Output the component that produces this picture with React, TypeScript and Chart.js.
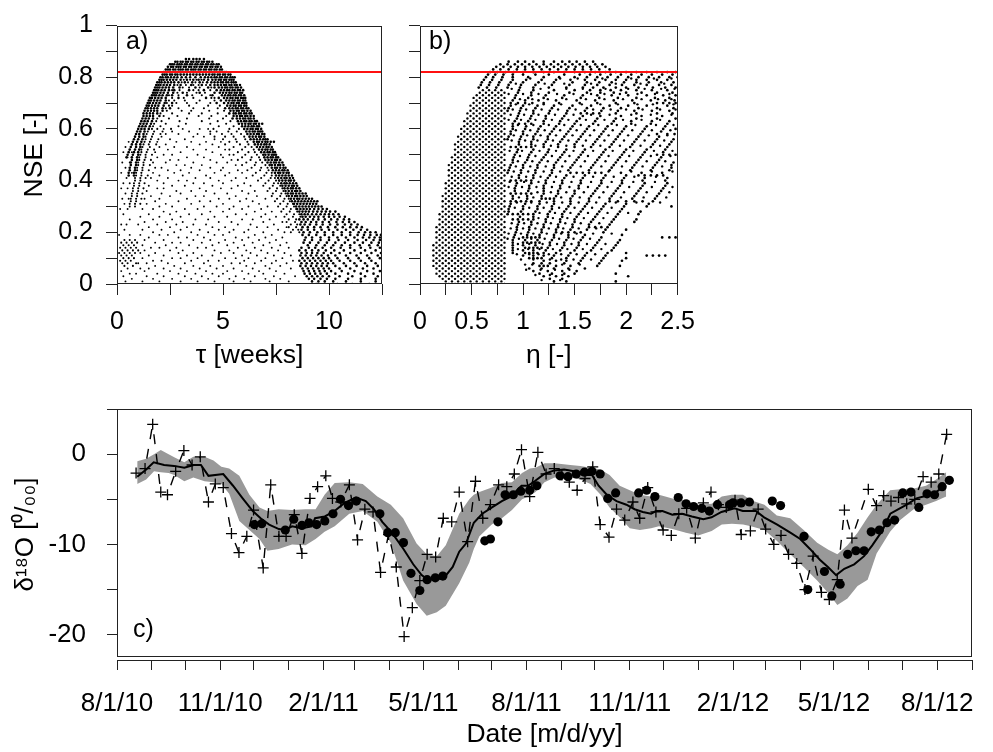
import React, { useEffect, useRef } from 'react';
import { Chart, registerables } from 'chart.js';

Chart.register(...registerables);

const FONT = "'Liberation Sans', Arial, Helvetica, sans-serif";

// ---------- Panel a: NSE vs tau; rows of [NSE, tau values] ----------
// dense envelope of the dotty plot
const tauDense: [number, number[]][] = [
  [0.87, [3.25, 3.4, 3.6, 3.75, 3.9, 4.1]],
  [0.86, [2.75, 2.85, 3.0, 3.1, 3.25, 3.35, 3.5, 3.6, 3.75, 3.85, 4.0, 4.1, 4.25, 4.35, 4.5]],
  [0.85, [2.5, 2.6, 2.7, 2.85, 2.95, 3.05, 3.2, 3.3, 3.45, 3.55, 3.7, 3.8, 3.95, 4.05, 4.2, 4.3, 4.45, 4.55, 4.7, 4.8]],
  [0.84, [2.4, 2.55, 2.65, 2.8, 2.9, 3.0, 3.15, 3.25, 3.4, 3.5, 3.65, 3.75, 3.9, 4.0, 4.15, 4.25, 4.4, 4.5, 4.65, 4.75, 4.9]],
  [0.83, [2.3, 2.4, 2.5, 2.65, 2.75, 2.9, 3.0, 3.1, 3.25, 3.35, 3.5, 3.6, 3.7, 3.85, 3.95, 4.1, 4.2, 4.35, 4.45, 4.6, 4.7, 4.85, 4.95]],
  [0.82, [2.2, 2.3, 2.45, 2.55, 2.7, 2.8, 2.95, 3.05, 3.2, 3.3, 3.45, 3.55, 3.65, 3.8, 3.9, 4.05, 4.15, 4.3, 4.4, 4.55, 4.65, 4.8, 4.9, 5.05, 5.15]],
  [0.81, [2.15, 2.25, 2.35, 2.5, 2.6, 2.75, 2.85, 3.0, 3.15, 3.3, 3.45, 3.6, 3.75, 3.9, 4.05, 4.2, 4.35, 4.5, 4.6, 4.75, 4.85, 5.0, 5.1, 5.25, 5.35]],
  [0.8, [2.05, 2.15, 2.3, 2.4, 2.55, 2.7, 2.85, 3.05, 3.25, 3.45, 3.7, 3.95, 4.15, 4.3, 4.45, 4.6, 4.7, 4.85, 4.95, 5.1, 5.2, 5.35, 5.45, 5.55]],
  [0.79, [2.0, 2.1, 2.2, 2.35, 2.5, 2.65, 2.8, 3.0, 3.3, 3.6, 3.85, 4.1, 4.3, 4.5, 4.65, 4.8, 4.9, 5.05, 5.15, 5.3, 5.4, 5.5]],
  [0.78, [1.9, 2.0, 2.1, 2.25, 2.4, 2.55, 2.7, 2.9, 3.2, 3.55, 3.9, 4.25, 4.45, 4.6, 4.75, 4.9, 5.0, 5.15, 5.25, 5.4, 5.5, 5.6]],
  [0.77, [1.85, 1.95, 2.05, 2.2, 2.35, 2.5, 2.7, 3.0, 3.5, 4.0, 4.4, 4.6, 4.75, 4.9, 5.05, 5.15, 5.3, 5.4, 5.55, 5.65, 5.8]],
  [0.76, [1.8, 1.9, 2.0, 2.15, 2.3, 2.45, 2.65, 2.95, 3.7, 4.3, 4.6, 4.8, 4.95, 5.1, 5.2, 5.35, 5.45, 5.6, 5.7, 5.85]],
  [0.75, [1.75, 1.85, 1.95, 2.1, 2.25, 2.45, 2.7, 3.4, 4.1, 4.7, 4.9, 5.05, 5.2, 5.3, 5.45, 5.55, 5.7, 5.8, 5.95]],
  [0.74, [1.7, 1.8, 1.9, 2.05, 2.2, 2.4, 2.65, 3.1, 3.9, 4.6, 4.85, 5.0, 5.15, 5.3, 5.4, 5.55, 5.65, 5.8, 5.9]],
  [0.73, [1.65, 1.75, 1.85, 2.0, 2.15, 2.35, 2.6, 3.3, 4.5, 4.95, 5.1, 5.25, 5.35, 5.5, 5.6, 5.75, 5.85, 6.0]],
  [0.72, [1.55, 1.65, 1.8, 1.95, 2.1, 2.3, 2.9, 4.2, 4.8, 5.05, 5.2, 5.35, 5.45, 5.6, 5.7, 5.85, 5.95, 6.05]],
  [0.71, [1.5, 1.6, 1.75, 1.9, 2.05, 2.3, 4.9, 5.15, 5.3, 5.45, 5.55, 5.7, 5.8, 5.95, 6.05]],
  [0.7, [1.45, 1.55, 1.7, 1.85, 2.0, 2.25, 2.6, 4.7, 5.05, 5.25, 5.4, 5.5, 5.65, 5.75, 5.9, 6.0, 6.1]],
  [0.69, [1.4, 1.5, 1.65, 1.8, 1.95, 2.2, 5.2, 5.35, 5.5, 5.6, 5.75, 5.85, 6.0, 6.1]],
  [0.68, [1.35, 1.45, 1.6, 1.75, 1.9, 2.15, 2.5, 5.1, 5.3, 5.45, 5.6, 5.7, 5.85, 5.95, 6.1, 6.2]],
  [0.67, [1.3, 1.45, 1.6, 1.75, 1.9, 2.15, 5.35, 5.5, 5.65, 5.75, 5.9, 6.0, 6.15, 6.3]],
  [0.66, [1.25, 1.4, 1.55, 1.7, 1.9, 5.3, 5.5, 5.6, 5.75, 5.85, 6.0, 6.1, 6.25, 6.35]],
  [0.65, [1.25, 1.4, 1.55, 1.7, 2.0, 5.5, 5.65, 5.8, 5.9, 6.05, 6.15, 6.3, 6.45]],
  [0.64, [1.2, 1.35, 1.5, 1.7, 5.45, 5.65, 5.8, 5.95, 6.05, 6.2, 6.3, 6.45]],
  [0.63, [1.15, 1.3, 1.45, 1.65, 5.7, 5.85, 6.0, 6.1, 6.25, 6.35, 6.5, 6.6]],
  [0.62, [1.1, 1.25, 1.4, 1.6, 5.75, 5.9, 6.05, 6.2, 6.3, 6.45, 6.55, 6.7, 6.85]],
  [0.61, [1.05, 1.2, 1.35, 1.55, 5.9, 6.05, 6.2, 6.35, 6.45, 6.6, 6.7]],
  [0.6, [1.0, 1.15, 1.3, 1.5, 6.0, 6.15, 6.3, 6.4, 6.55, 6.65, 6.8]],
  [0.59, [0.95, 1.1, 1.3, 6.1, 6.25, 6.4, 6.5, 6.65, 6.75, 6.85]],
  [0.58, [0.9, 1.05, 1.25, 6.15, 6.3, 6.45, 6.6, 6.7, 6.85, 6.95]],
  [0.57, [0.85, 1.05, 1.25, 6.25, 6.4, 6.55, 6.7, 6.8, 6.95]],
  [0.56, [0.8, 1.0, 1.2, 6.3, 6.45, 6.6, 6.75, 6.9, 7.0, 7.1]],
  [0.55, [0.75, 0.95, 1.15, 6.45, 6.6, 6.7, 6.85, 7.0, 7.1, 7.25, 7.4]],
  [0.54, [0.7, 0.9, 1.1, 6.5, 6.65, 6.8, 6.95, 7.05, 7.2]],
  [0.53, [0.65, 0.9, 1.1, 6.6, 6.75, 6.9, 7.05, 7.15, 7.3]],
  [0.52, [0.6, 0.85, 1.05, 6.7, 6.85, 7.0, 7.1, 7.25, 7.35]],
  [0.51, [0.55, 0.8, 1.0, 6.8, 6.95, 7.1, 7.2, 7.35, 7.45]],
  [0.5, [0.5, 0.75, 1.0, 6.9, 7.0, 7.15, 7.3, 7.4, 7.5]],
  [0.49, [0.45, 0.7, 0.95, 6.95, 7.1, 7.25, 7.35, 7.5, 7.6]],
  [0.48, [0.7, 0.95, 7.0, 7.15, 7.3, 7.45, 7.55, 7.7]],
  [0.47, [0.65, 0.9, 7.1, 7.25, 7.4, 7.5, 7.65, 7.8]],
  [0.46, [0.65, 0.9, 7.2, 7.3, 7.45, 7.6, 7.7, 7.85]],
  [0.45, [0.6, 0.85, 7.3, 7.45, 7.55, 7.7, 7.85, 7.95]],
  [0.44, [0.6, 0.85, 7.35, 7.5, 7.65, 7.8, 7.9, 8.05]],
  [0.43, [0.55, 0.8, 7.45, 7.6, 7.7, 7.85, 8.0, 8.1]],
  [0.42, [0.55, 0.8, 7.5, 7.65, 7.8, 7.95, 8.1, 8.25]],
  [0.41, [7.6, 7.75, 7.9, 8.0, 8.15, 8.3]],
  [0.4, [7.65, 7.8, 7.95, 8.1, 8.2, 8.35]],
  [0.39, [7.75, 7.9, 8.0, 8.15, 8.3, 8.45]],
  [0.38, [7.8, 7.95, 8.1, 8.25, 8.35, 8.5]],
  [0.37, [7.9, 8.05, 8.2, 8.3, 8.45, 8.6]],
  [0.36, [7.95, 8.1, 8.25, 8.4, 8.5, 8.65]],
  [0.35, [8.05, 8.2, 8.3, 8.45, 8.6, 8.75, 8.9]],
  [0.34, [8.1, 8.25, 8.4, 8.5, 8.65, 8.8, 8.95]],
  [0.33, [8.2, 8.35, 8.5, 8.6, 8.75, 8.9, 9.05, 9.2]],
  [0.32, [8.25, 8.4, 8.55, 8.7, 8.85, 9.0, 9.15, 9.3, 9.45]],
  [0.31, [8.35, 8.5, 8.65, 8.8, 8.95, 9.1, 9.25, 9.4]],
  [0.3, [8.45, 8.6, 8.75, 8.9, 9.05, 9.2, 9.35, 9.5, 9.65]],
  [0.29, [8.5, 8.65, 8.8, 8.95, 9.1, 9.3, 9.5, 9.7, 9.9]],
  [0.28, [8.6, 8.75, 8.9, 9.05, 9.25, 9.45, 9.65, 9.85, 10.05, 10.3]],
  [0.27, [8.7, 8.85, 9.0, 9.2, 9.4, 9.6, 9.8, 10.0, 10.2, 10.45]],
  [0.26, [8.75, 8.9, 9.1, 9.3, 9.5, 9.75, 10.0, 10.25, 10.5, 10.75]],
  [0.25, [8.6, 8.8, 9.0, 9.25, 9.5, 9.8, 10.1, 10.4, 10.7, 10.95]],
  [0.24, [8.7, 8.9, 9.15, 9.4, 9.7, 10.0, 10.35, 10.65, 10.95, 11.2]],
  [0.23, [8.65, 8.85, 9.1, 9.4, 9.7, 10.05, 10.4, 10.75, 11.05, 11.35]],
  [0.22, [8.75, 9.0, 9.3, 9.6, 9.95, 10.3, 10.65, 11.0, 11.3, 11.55]],
  [0.21, [8.7, 9.0, 9.3, 9.65, 10.0, 10.4, 10.8, 11.15, 11.5, 11.8]],
  [0.2, [8.8, 9.1, 9.45, 9.8, 10.2, 10.6, 11.0, 11.4, 11.7, 11.95, 12.2]],
  [0.19, [8.75, 9.05, 9.4, 9.8, 10.2, 10.6, 11.0, 11.35, 11.65, 11.95, 12.25, 12.45]],
  [0.18, [8.9, 9.2, 9.6, 10.0, 10.4, 10.8, 11.2, 11.6, 11.9, 12.15, 12.4]],
  [0.17, [8.85, 9.2, 9.6, 10.0, 10.45, 10.9, 11.35, 11.75, 12.1, 12.4]],
  [0.16, [8.8, 9.1, 9.5, 9.9, 10.3, 10.75, 11.2, 11.6, 12.0, 12.35]],
  [0.15, [9.0, 9.4, 9.8, 10.2, 10.6, 11.0, 11.45, 11.9, 12.3]],
  [0.14, [8.7, 9.05, 9.35, 9.7, 10.1, 10.55, 11.0, 11.5, 11.95, 12.4]],
  [0.13, [8.6, 8.9, 9.2, 9.5, 9.85, 10.25, 10.7, 11.2, 11.7, 12.2]],
  [0.12, [8.7, 8.95, 9.2, 9.45, 9.75, 10.1, 10.5, 11.0, 11.5, 12.0, 12.45]],
  [0.11, [8.65, 8.9, 9.15, 9.4, 9.65, 9.95, 10.3, 10.8, 11.3, 11.8, 12.3]],
  [0.1, [8.75, 9.0, 9.25, 9.5, 9.75, 10.0, 10.4, 10.9, 11.4, 11.9, 12.4]],
  [0.09, [8.6, 8.85, 9.1, 9.35, 9.6, 9.85, 10.1, 10.5, 11.0, 11.5, 12.0]],
  [0.08, [8.7, 8.95, 9.2, 9.45, 9.7, 9.95, 10.2, 10.7, 11.2, 11.7, 12.2]],
  [0.07, [8.65, 8.9, 9.15, 9.4, 9.65, 9.9, 10.3, 10.8, 11.3, 11.8, 12.3]],
  [0.06, [8.75, 9.0, 9.25, 9.5, 9.75, 10.0, 10.5, 11.0, 11.6, 12.1]],
  [0.05, [8.8, 9.05, 9.3, 9.55, 9.8, 10.1, 10.6, 11.2, 11.8, 12.4]],
  [0.04, [8.85, 9.1, 9.35, 9.6, 9.9, 10.3, 10.9, 11.5, 12.1]],
  [0.03, [8.95, 9.2, 9.45, 9.7, 10.0, 10.5, 11.1, 11.7, 12.3]],
  [0.02, [9.05, 9.3, 9.6, 9.9, 10.3, 10.9, 11.5, 12.2]],
  [0.01, [9.2, 9.5, 9.8, 10.2, 10.8, 11.5, 12.2]],
  [0.0, [9.4, 9.8, 10.4, 11.1, 11.9]],
];
// medium-density inner part of the envelope and the small cluster at low tau
const tauMedium: [number, number[]][] = [
  [0.79, [3.15, 3.45, 3.75, 3.98]], [0.78, [3.05, 3.35, 3.7, 4.05]], [0.77, [2.85, 3.25, 3.6, 3.85, 4.2]],
  [0.76, [3.1, 3.4, 3.9, 4.45]], [0.75, [2.6, 2.95, 3.6, 3.85, 4.4]], [0.74, [2.85, 3.3, 3.75, 4.15]],
  [0.73, [2.45, 2.9, 3.55, 4.0, 4.4]], [0.72, [2.6, 3.15, 3.6, 4.45, 4.6]], [0.71, [2.45, 2.7, 3.2, 3.9, 4.6]],
  [0.7, [2.35, 2.8, 3.3, 3.75, 4.4]], [0.69, [2.45, 2.6, 3.4, 4.3, 4.85]], [0.68, [2.3, 2.9, 3.6, 4.1, 4.75]],
  [0.67, [2.35, 3.05, 3.5, 4.35, 5.05]], [0.66, [2.05, 2.6, 3.4, 4.0, 4.75]], [0.65, [2.2, 2.85, 3.85, 4.45, 5.15]],
  [0.64, [1.9, 2.45, 3.3, 4.35, 5.0]], [0.63, [1.85, 2.1, 2.95, 4.0, 4.75, 5.35]], [0.62, [1.75, 2.3, 3.25, 4.4, 5.15]],
  [0.61, [1.7, 2.05, 2.9, 4.8, 5.5]], [0.6, [1.65, 1.9, 2.55, 4.55, 5.3, 5.75]], [0.59, [1.45, 1.75, 2.15, 4.4, 5.25, 5.65]],
  [0.58, [1.4, 1.7, 2.05, 4.95, 5.4, 5.85]], [0.57, [1.35, 1.65, 4.6, 5.1, 5.5, 6.0]], [0.56, [1.35, 1.6, 1.95, 5.0, 5.6, 6.05]],
  [0.55, [1.3, 1.55, 5.3, 5.65, 6.15]], [0.54, [1.25, 1.5, 1.85, 5.1, 5.8, 6.2]], [0.53, [1.2, 1.55, 5.5, 6.05, 6.35]],
  [0.52, [1.15, 1.45, 1.75, 5.3, 5.9, 6.45]], [0.51, [1.15, 1.4, 5.7, 6.2, 6.5]], [0.5, [1.1, 1.35, 1.65, 5.5, 6.05, 6.6]],
  [0.49, [1.05, 1.35, 5.9, 6.35, 6.7]], [0.48, [1.05, 1.3, 1.6, 5.7, 6.3, 6.75]], [0.47, [1.0, 1.25, 6.1, 6.55, 6.85]],
  [0.46, [1.0, 1.25, 1.55, 5.9, 6.5, 7.0]], [0.45, [0.95, 1.2, 6.35, 6.8, 7.1]], [0.44, [0.95, 1.2, 1.5, 6.15, 6.75, 7.15]],
  [0.43, [0.9, 1.15, 6.55, 7.05, 7.3]], [0.42, [0.9, 1.15, 1.45, 6.4, 6.95, 7.3]], [0.41, [0.85, 1.1, 1.35, 6.8, 7.25, 7.45]],
  [0.4, [0.85, 1.1, 6.65, 7.15, 7.5]], [0.39, [0.8, 1.05, 1.3, 7.0, 7.4, 7.6]], [0.38, [0.8, 1.05, 6.9, 7.35, 7.7]],
  [0.37, [0.75, 1.0, 1.25, 7.2, 7.55, 7.8]], [0.36, [0.75, 1.0, 7.1, 7.5, 7.85]], [0.35, [0.7, 0.95, 1.2, 7.35, 7.75, 7.95]],
  [0.34, [0.7, 0.95, 7.3, 7.7, 8.0]], [0.33, [0.65, 0.9, 1.15, 7.55, 7.9, 8.1]], [0.32, [0.65, 0.9, 7.45, 7.85, 8.15]],
  [0.31, [0.6, 0.85, 1.1, 7.7, 8.05, 8.3]], [0.3, [0.6, 0.85, 7.6, 8.0, 8.35]], [0.29, [7.85, 8.2, 8.45]],
  [0.28, [7.75, 8.15, 8.5]], [0.27, [8.0, 8.35, 8.6]], [0.26, [7.9, 8.3, 8.65]], [0.25, [8.1, 8.45]],
  [0.24, [8.0, 8.4]], [0.23, [8.2, 8.5]], [0.22, [8.1, 8.45]], [0.21, [8.3, 8.55]], [0.2, [8.2, 8.6]],
  [0.17, [0.35, 0.6, 0.85]], [0.16, [0.2, 0.45, 0.7, 0.95]], [0.15, [0.3, 0.55, 0.8]], [0.14, [0.15, 0.4, 0.65, 0.9]],
  [0.13, [0.25, 0.5, 0.75, 1.0]], [0.12, [0.1, 0.35, 0.6, 0.85]], [0.11, [0.2, 0.45, 0.7]], [0.1, [0.3, 0.55, 0.8]],
  [0.09, [0.15, 0.4, 0.65]], [0.08, [0.25, 0.5, 0.9]], [0.07, [0.35, 0.75]],
];
// scattered interior of the dotty plot
const tauSparse: [number, number[]][] = [
  [0.6, [2.2, 3.1, 3.9, 4.3]], [0.59, [2.6, 3.4, 4.7]], [0.58, [2.3, 2.9, 3.8, 4.4]], [0.57, [2.1, 3.6, 4.1]],
  [0.56, [2.5, 3.2, 4.6]], [0.55, [0.55, 1.9, 2.8, 3.5, 4.2, 4.9]], [0.54, [2.3, 3.9, 4.5]], [0.53, [0.4, 2.0, 2.7, 3.3, 4.8]],
  [0.52, [2.4, 3.6, 4.2, 5.1]], [0.51, [0.3, 0.7, 1.8, 3.0, 4.5]], [0.5, [2.2, 2.6, 3.8, 4.9, 5.3]], [0.49, [0.5, 1.9, 3.3, 4.1, 5.0]],
  [0.48, [2.5, 2.9, 4.4, 5.4]], [0.47, [0.25, 0.6, 1.7, 2.3, 3.6, 4.7, 5.2]], [0.46, [2.8, 3.2, 4.0, 5.6]],
  [0.45, [0.4, 1.8, 2.1, 3.5, 4.4, 5.0]], [0.44, [2.4, 3.0, 3.9, 4.9, 5.7]], [0.43, [0.2, 0.7, 1.7, 2.7, 3.4, 4.6, 5.3, 5.9]],
  [0.42, [2.0, 3.1, 4.2, 5.1]], [0.41, [0.45, 1.6, 2.4, 3.7, 4.4, 5.6, 6.1]], [0.4, [1.9, 2.9, 3.3, 4.8, 5.4]],
  [0.39, [0.3, 0.6, 2.2, 3.6, 4.1, 5.0, 6.0]], [0.38, [1.5, 2.6, 3.2, 4.5, 5.7, 6.3]], [0.37, [0.2, 0.5, 1.9, 2.2, 3.9, 4.9, 5.4]],
  [0.36, [1.4, 2.8, 3.5, 4.2, 5.9, 6.5]], [0.35, [0.4, 2.1, 3.0, 4.6, 5.2, 6.2]], [0.34, [1.6, 2.5, 3.7, 4.1, 5.6, 6.6]],
  [0.33, [0.25, 0.55, 1.3, 2.0, 3.3, 4.8, 5.3, 6.1, 7.0]], [0.32, [1.8, 2.9, 3.9, 4.4, 5.8, 6.4]], [0.31, [0.35, 1.4, 2.3, 3.5, 5.0, 6.7]],
  [0.3, [2.0, 2.6, 4.1, 4.7, 5.5, 6.2, 7.1]], [0.29, [0.15, 0.5, 1.2, 1.7, 3.2, 3.8, 5.3, 5.9, 6.8]], [0.28, [2.2, 2.8, 4.4, 5.0, 6.5, 7.3]],
  [0.27, [0.3, 1.5, 2.5, 3.4, 4.0, 5.6, 6.1, 7.0]], [0.26, [1.1, 2.0, 3.0, 4.6, 5.2, 6.8, 7.5]], [0.25, [0.6, 1.7, 2.6, 3.7, 4.3, 5.9, 6.4, 7.2]],
  [0.24, [1.3, 2.3, 3.1, 4.8, 5.4, 6.9, 7.8]], [0.23, [0.2, 0.45, 1.0, 1.9, 2.8, 3.6, 4.2, 5.7, 6.3, 7.4]],
  [0.22, [1.5, 2.5, 3.3, 4.5, 5.1, 6.6, 7.1, 8.0]], [0.21, [0.35, 1.2, 2.1, 3.0, 3.9, 4.8, 5.5, 6.2, 7.6]],
  [0.2, [1.7, 2.7, 3.5, 4.3, 5.3, 6.0, 6.9, 7.9]], [0.19, [0.1, 0.6, 1.1, 2.0, 2.4, 3.8, 4.6, 5.0, 6.5, 7.3]],
  [0.18, [1.5, 2.9, 3.3, 4.1, 5.6, 6.2, 7.0, 7.8]], [0.17, [1.3, 2.2, 3.6, 4.4, 5.1, 5.9, 6.7, 7.5]],
  [0.16, [1.8, 2.6, 3.0, 4.0, 4.8, 5.5, 6.4, 7.2, 8.0]], [0.15, [1.2, 2.3, 3.4, 4.5, 5.2, 6.0, 6.9, 7.7]],
  [0.14, [1.6, 2.0, 2.8, 3.8, 4.2, 5.7, 6.5, 7.3, 8.1]], [0.13, [1.3, 2.5, 3.1, 4.6, 5.3, 6.1, 6.8, 7.6]],
  [0.12, [1.1, 1.8, 2.9, 3.6, 4.9, 5.5, 6.3, 7.1, 7.9]], [0.11, [1.5, 2.2, 3.3, 4.0, 4.5, 5.9, 6.6, 7.4, 8.2]],
  [0.1, [1.2, 2.6, 3.0, 3.8, 5.1, 5.6, 6.2, 7.0, 7.8]], [0.09, [1.7, 2.1, 3.5, 4.3, 4.8, 6.0, 6.8, 7.5, 8.3]],
  [0.08, [1.0, 1.4, 2.4, 3.2, 4.1, 5.4, 5.8, 6.5, 7.3, 8.0]], [0.07, [1.8, 2.7, 3.6, 4.4, 5.0, 6.1, 7.0, 7.7]],
  [0.06, [0.5, 1.1, 1.5, 2.2, 3.0, 3.9, 4.7, 5.5, 6.4, 7.2, 8.2]], [0.05, [0.2, 1.3, 2.5, 3.3, 4.2, 5.2, 5.9, 6.7, 7.5]],
  [0.04, [0.6, 0.9, 1.9, 2.9, 3.7, 4.5, 5.0, 6.2, 6.9, 7.9]], [0.03, [0.3, 1.4, 2.2, 3.2, 4.0, 4.8, 5.6, 6.5, 7.4, 8.4]],
  [0.02, [0.7, 1.7, 2.6, 3.5, 4.3, 5.3, 6.0, 7.0, 7.7]], [0.01, [0.4, 1.2, 2.0, 3.0, 3.8, 4.6, 5.5, 6.3, 7.2, 8.1]],
  [0.0, [0.8, 1.6, 2.4, 3.3, 4.1, 5.0, 5.8, 6.7, 7.6, 8.5]],
];

// ---------- Panel b: NSE vs eta; rows of [NSE, eta values] ----------
const etaDots: [number, number[]][] = [
  [0.86, [0.86, 0.95, 1.02, 1.1, 1.2, 1.3, 1.38, 1.45, 1.52, 1.6, 1.68]],
  [0.85, [0.78, 0.85, 0.92, 0.99, 1.06, 1.13, 1.2, 1.27, 1.34, 1.41, 1.48, 1.55, 1.62, 1.7, 1.77]],
  [0.84, [0.74, 0.81, 0.88, 0.95, 1.02, 1.09, 1.16, 1.23, 1.3, 1.37, 1.44, 1.51, 1.58, 1.65, 1.72, 1.8]],
  [0.83, [0.71, 0.78, 0.86, 0.94, 1.02, 1.1, 1.18, 1.26, 1.34, 1.42, 1.5, 1.58, 1.66, 1.74, 1.84]],
  [0.82, [0.68, 0.75, 0.83, 0.91, 1.0, 1.1, 1.2, 1.3, 1.4, 1.5, 1.6, 1.7, 1.8, 1.9, 2.0, 2.1, 2.2, 2.3, 2.4, 2.48]],
  [0.81, [0.66, 0.73, 0.81, 0.9, 1.0, 1.12, 1.25, 1.4, 1.55, 1.65, 1.75, 1.85, 1.95, 2.05, 2.15, 2.25, 2.35, 2.45]],
  [0.8, [0.64, 0.71, 0.8, 0.9, 1.05, 1.2, 1.35, 1.5, 1.62, 1.72, 1.82, 1.92, 2.02, 2.12, 2.22, 2.32, 2.42, 2.5]],
  [0.79, [0.62, 0.7, 0.79, 0.9, 1.03, 1.18, 1.32, 1.46, 1.6, 1.7, 1.8, 1.9, 2.0, 2.1, 2.2, 2.3, 2.4]],
  [0.78, [0.6, 0.68, 0.77, 0.88, 1.0, 1.15, 1.3, 1.48, 1.62, 1.74, 1.86, 1.98, 2.1, 2.22, 2.34, 2.46]],
  [0.77, [0.59, 0.67, 0.76, 0.86, 0.98, 1.12, 1.28, 1.45, 1.6, 1.72, 1.84, 1.96, 2.08, 2.2, 2.32, 2.44]],
  [0.76, [0.57, 0.65, 0.74, 0.85, 0.97, 1.1, 1.25, 1.42, 1.58, 1.68, 1.78, 1.9, 2.0, 2.12, 2.26, 2.38, 2.48]],
  [0.75, [0.61, 0.67, 0.73, 0.79, 0.96, 1.1, 1.3, 1.5, 1.65, 1.75, 1.85, 1.95, 2.1, 2.25, 2.4]],
  [0.74, [0.58, 0.64, 0.7, 0.76, 0.82, 0.95, 1.08, 1.25, 1.45, 1.62, 1.75, 1.88, 2.0, 2.15, 2.3, 2.45]],
  [0.73, [0.55, 0.61, 0.67, 0.73, 0.79, 0.93, 1.08, 1.22, 1.4, 1.58, 1.72, 1.86, 2.02, 2.2, 2.36, 2.48]],
  [0.72, [0.52, 0.58, 0.64, 0.7, 0.76, 0.82, 0.92, 1.05, 1.2, 1.38, 1.56, 1.74, 1.92, 2.1, 2.28, 2.42]],
  [0.71, [0.55, 0.61, 0.67, 0.73, 0.79, 0.9, 1.02, 1.15, 1.32, 1.52, 1.7, 1.88, 2.06, 2.24, 2.38, 2.47]],
  [0.7, [0.52, 0.58, 0.64, 0.7, 0.76, 0.82, 0.88, 0.95, 1.02, 1.09, 1.2, 1.35, 1.55, 1.72, 1.9, 2.08, 2.3, 2.36, 2.42, 2.48]],
  [0.69, [0.49, 0.55, 0.61, 0.67, 0.73, 0.79, 0.88, 1.0, 1.14, 1.3, 1.48, 1.66, 1.84, 2.02, 2.2, 2.4]],
  [0.68, [0.52, 0.58, 0.64, 0.7, 0.76, 0.82, 0.86, 0.98, 1.12, 1.28, 1.45, 1.62, 1.78, 1.95, 2.12, 2.3, 2.46]],
  [0.67, [0.49, 0.55, 0.61, 0.67, 0.73, 0.79, 0.85, 0.97, 1.1, 1.26, 1.43, 1.6, 1.76, 1.92, 2.08, 2.25, 2.42]],
  [0.66, [0.46, 0.52, 0.58, 0.64, 0.7, 0.76, 0.82, 0.96, 1.1, 1.25, 1.42, 1.56, 1.62, 1.68, 1.74, 1.9, 2.1, 2.3, 2.45]],
  [0.65, [0.49, 0.55, 0.61, 0.67, 0.73, 0.79, 0.95, 1.08, 1.22, 1.4, 1.58, 1.75, 1.95, 2.15, 2.35]],
  [0.64, [0.46, 0.52, 0.58, 0.64, 0.7, 0.76, 0.82, 0.94, 1.07, 1.22, 1.38, 1.55, 1.72, 1.9, 2.1, 2.3, 2.48]],
  [0.63, [0.43, 0.49, 0.55, 0.61, 0.67, 0.73, 0.79, 0.92, 1.05, 1.2, 1.36, 1.52, 1.7, 1.88, 2.05, 2.25, 2.42]],
  [0.62, [0.46, 0.52, 0.58, 0.64, 0.7, 0.76, 0.82, 0.9, 0.96, 1.02, 1.08, 1.2, 1.35, 1.5, 1.68, 1.86, 2.05, 2.24, 2.4]],
  [0.61, [0.43, 0.49, 0.55, 0.61, 0.67, 0.73, 0.79, 0.9, 1.03, 1.17, 1.32, 1.48, 1.64, 1.82, 2.0, 2.2, 2.38]],
  [0.6, [0.4, 0.46, 0.52, 0.58, 0.64, 0.7, 0.76, 0.82, 0.9, 1.02, 1.15, 1.3, 1.46, 1.62, 1.8, 1.98, 2.18, 2.36, 2.48]],
  [0.59, [0.43, 0.49, 0.55, 0.61, 0.67, 0.73, 0.79, 0.88, 1.0, 1.14, 1.28, 1.44, 1.6, 1.78, 1.96, 2.16, 2.34]],
  [0.58, [0.4, 0.46, 0.52, 0.58, 0.64, 0.7, 0.76, 0.82, 0.88, 1.0, 1.12, 1.26, 1.42, 1.58, 1.76, 1.94, 2.14, 2.3, 2.4, 2.47]],
  [0.57, [0.37, 0.43, 0.49, 0.55, 0.61, 0.67, 0.73, 0.79, 0.86, 0.98, 1.1, 1.24, 1.4, 1.56, 1.74, 1.92, 2.12, 2.32]],
  [0.56, [0.4, 0.46, 0.52, 0.58, 0.64, 0.7, 0.76, 0.82, 0.85, 0.97, 1.1, 1.24, 1.38, 1.54, 1.72, 1.9, 2.1, 2.3, 2.46]],
  [0.55, [0.37, 0.43, 0.49, 0.55, 0.61, 0.67, 0.73, 0.79, 0.96, 1.08, 1.22, 1.36, 1.52, 1.7, 1.88, 2.08, 2.28, 2.44]],
  [0.54, [0.34, 0.4, 0.46, 0.52, 0.58, 0.64, 0.7, 0.76, 0.82, 0.96, 1.08, 1.2, 1.34, 1.5, 1.68, 1.86, 2.06, 2.26, 2.42]],
  [0.53, [0.37, 0.43, 0.49, 0.55, 0.61, 0.67, 0.73, 0.79, 0.88, 0.93, 0.98, 1.03, 1.08, 1.2, 1.34, 1.5, 1.66, 1.84, 2.04, 2.24, 2.4]],
  [0.52, [0.34, 0.4, 0.46, 0.52, 0.58, 0.64, 0.7, 0.76, 0.82, 0.95, 1.1, 1.25, 1.42, 1.6, 1.8, 2.0, 2.2, 2.38]],
  [0.51, [0.37, 0.43, 0.49, 0.55, 0.61, 0.67, 0.73, 0.79, 0.94, 1.08, 1.24, 1.4, 1.58, 1.78, 1.98, 2.18, 2.36]],
  [0.5, [0.34, 0.4, 0.46, 0.52, 0.58, 0.64, 0.7, 0.76, 0.82, 0.92, 1.06, 1.22, 1.38, 1.56, 1.76, 1.96, 2.16, 2.3, 2.36, 2.42, 2.48]],
  [0.49, [0.31, 0.37, 0.43, 0.49, 0.55, 0.61, 0.67, 0.73, 0.79, 0.91, 1.05, 1.2, 1.36, 1.54, 1.74, 1.94, 2.14, 2.34]],
  [0.48, [0.34, 0.4, 0.46, 0.52, 0.58, 0.64, 0.7, 0.76, 0.82, 0.9, 1.04, 1.18, 1.34, 1.52, 1.72, 1.92, 2.12, 2.32]],
  [0.47, [0.31, 0.37, 0.43, 0.49, 0.55, 0.61, 0.67, 0.73, 0.79, 0.9, 1.02, 1.16, 1.32, 1.5, 1.7, 1.9, 2.1, 2.3, 2.46]],
  [0.46, [0.28, 0.34, 0.4, 0.46, 0.52, 0.58, 0.64, 0.7, 0.76, 0.82, 0.88, 1.0, 1.14, 1.3, 1.48, 1.68, 1.88, 2.08, 2.28, 2.44]],
  [0.45, [0.31, 0.37, 0.43, 0.49, 0.55, 0.61, 0.67, 0.73, 0.79, 0.87, 1.0, 1.14, 1.3, 1.46, 1.66, 1.86, 2.06, 2.26, 2.44]],
  [0.44, [0.28, 0.34, 0.4, 0.46, 0.52, 0.58, 0.64, 0.7, 0.76, 0.82, 0.86, 0.98, 1.12, 1.28, 1.44, 1.64, 1.84, 2.04, 2.24, 2.42]],
  [0.43, [0.31, 0.37, 0.43, 0.49, 0.55, 0.61, 0.67, 0.73, 0.79, 0.85, 0.98, 1.12, 1.28, 1.46, 1.52, 1.58, 1.64, 1.7, 1.76, 1.95, 2.15, 2.35]],
  [0.42, [0.28, 0.34, 0.4, 0.46, 0.52, 0.58, 0.64, 0.7, 0.76, 0.82, 0.96, 1.1, 1.26, 1.42, 1.6, 1.8, 2.0, 2.12, 2.18, 2.24, 2.3, 2.36]],
  [0.41, [0.31, 0.37, 0.43, 0.49, 0.55, 0.61, 0.67, 0.73, 0.79, 0.96, 1.1, 1.24, 1.4, 1.58, 1.78, 1.98, 2.18, 2.4]],
  [0.4, [0.28, 0.34, 0.4, 0.46, 0.52, 0.58, 0.64, 0.7, 0.76, 0.82, 0.88, 0.93, 0.98, 1.03, 1.08, 1.22, 1.38, 1.56, 1.76, 1.96, 2.16, 2.38]],
  [0.39, [0.25, 0.31, 0.37, 0.43, 0.49, 0.55, 0.61, 0.67, 0.73, 0.79, 0.94, 1.08, 1.22, 1.38, 1.56, 1.76, 1.96, 2.18, 2.4]],
  [0.38, [0.28, 0.34, 0.4, 0.46, 0.52, 0.58, 0.64, 0.7, 0.76, 0.82, 0.93, 1.06, 1.2, 1.36, 1.54, 1.74, 1.94, 2.16, 2.38]],
  [0.37, [0.25, 0.31, 0.37, 0.43, 0.49, 0.55, 0.61, 0.67, 0.73, 0.79, 0.92, 1.06, 1.2, 1.36, 1.54, 1.72, 1.92, 2.14, 2.36]],
  [0.36, [0.28, 0.34, 0.4, 0.46, 0.52, 0.58, 0.64, 0.7, 0.76, 0.82, 0.92, 1.05, 1.2, 1.34, 1.5, 1.7, 1.9, 2.12, 2.34]],
  [0.35, [0.25, 0.31, 0.37, 0.43, 0.49, 0.55, 0.61, 0.67, 0.73, 0.79, 0.88, 0.93, 0.98, 1.03, 1.08, 1.2, 1.34, 1.5, 1.68, 1.88, 2.1, 2.32]],
  [0.34, [0.22, 0.28, 0.34, 0.4, 0.46, 0.52, 0.58, 0.64, 0.7, 0.76, 0.82, 0.9, 1.04, 1.18, 1.32, 1.48, 1.66, 1.86, 2.08, 2.3]],
  [0.33, [0.25, 0.31, 0.37, 0.43, 0.49, 0.55, 0.61, 0.67, 0.73, 0.79, 0.9, 1.04, 1.18, 1.22, 1.26, 1.3, 1.46, 1.64, 1.84, 2.06, 2.28]],
  [0.32, [0.22, 0.28, 0.34, 0.4, 0.46, 0.52, 0.58, 0.64, 0.7, 0.76, 0.82, 0.88, 0.93, 0.98, 1.03, 1.08, 1.16, 1.3, 1.46, 1.64, 1.84, 1.92, 2.0, 2.08, 2.16, 2.26]],
  [0.31, [0.25, 0.31, 0.37, 0.43, 0.49, 0.55, 0.61, 0.67, 0.73, 0.79, 0.88, 1.02, 1.16, 1.3, 1.46, 1.62, 1.8, 2.0, 2.22]],
  [0.3, [0.22, 0.28, 0.34, 0.4, 0.46, 0.52, 0.58, 0.64, 0.7, 0.76, 0.82, 0.87, 1.0, 1.14, 1.28, 1.44, 1.6, 1.78, 1.98, 2.2, 2.44]],
  [0.29, [0.25, 0.31, 0.37, 0.43, 0.49, 0.55, 0.61, 0.67, 0.73, 0.79, 0.86, 1.0, 1.14, 1.28, 1.42, 1.58, 1.76, 1.96]],
  [0.28, [0.22, 0.28, 0.34, 0.4, 0.46, 0.52, 0.58, 0.64, 0.7, 0.76, 0.82, 0.86, 0.98, 1.12, 1.26, 1.4, 1.56, 1.74, 1.94, 2.14]],
  [0.27, [0.19, 0.25, 0.31, 0.37, 0.43, 0.49, 0.55, 0.61, 0.67, 0.73, 0.79, 0.85, 0.9, 0.95, 1.0, 1.05, 1.1, 1.24, 1.38, 1.54, 1.72, 1.92, 2.12]],
  [0.26, [0.22, 0.28, 0.34, 0.4, 0.46, 0.52, 0.58, 0.64, 0.7, 0.76, 0.82, 0.97, 1.1, 1.24, 1.38, 1.52, 1.7, 1.9]],
  [0.25, [0.19, 0.25, 0.31, 0.37, 0.43, 0.49, 0.55, 0.61, 0.67, 0.73, 0.79, 0.9, 0.95, 1.0, 1.05, 1.1, 1.22, 1.36, 1.5, 1.68, 1.88, 2.1]],
  [0.24, [0.22, 0.28, 0.34, 0.4, 0.46, 0.52, 0.58, 0.64, 0.7, 0.76, 0.82, 0.96, 1.08, 1.22, 1.36, 1.5, 1.66, 1.86, 2.08]],
  [0.23, [0.19, 0.25, 0.31, 0.37, 0.43, 0.49, 0.55, 0.61, 0.67, 0.73, 0.79, 0.95, 1.08, 1.2, 1.34, 1.48, 1.64, 1.84]],
  [0.22, [0.16, 0.22, 0.28, 0.34, 0.4, 0.46, 0.52, 0.58, 0.64, 0.7, 0.76, 0.82, 0.94, 1.06, 1.2, 1.34, 1.48, 1.64, 1.7, 1.76, 1.82]],
  [0.21, [0.19, 0.25, 0.31, 0.37, 0.43, 0.49, 0.55, 0.61, 0.67, 0.73, 0.79, 0.94, 1.06, 1.18, 1.32, 1.46, 1.62, 1.8, 2.0]],
  [0.2, [0.16, 0.22, 0.28, 0.34, 0.4, 0.46, 0.52, 0.58, 0.64, 0.7, 0.76, 0.82, 0.93, 1.05, 1.18, 1.32, 1.38, 1.44, 1.5, 1.56, 1.78]],
  [0.19, [0.19, 0.25, 0.31, 0.37, 0.43, 0.49, 0.55, 0.61, 0.67, 0.73, 0.79, 0.92, 1.04, 1.16, 1.3, 1.44, 1.6, 1.96]],
  [0.18, [0.16, 0.22, 0.28, 0.34, 0.4, 0.46, 0.52, 0.58, 0.64, 0.7, 0.76, 0.82, 0.91, 1.0, 1.04, 1.08, 1.12, 1.16, 1.3, 1.44, 1.58, 1.76, 2.35, 2.42, 2.48]],
  [0.17, [0.19, 0.25, 0.31, 0.37, 0.43, 0.49, 0.55, 0.61, 0.67, 0.73, 0.79, 0.9, 1.02, 1.14, 1.28, 1.42, 1.56, 1.74, 1.94]],
  [0.16, [0.16, 0.22, 0.28, 0.34, 0.4, 0.46, 0.52, 0.58, 0.64, 0.7, 0.76, 0.82, 0.9, 1.0, 1.04, 1.08, 1.12, 1.16, 1.26, 1.4, 1.54, 1.72, 1.92]],
  [0.15, [0.13, 0.19, 0.25, 0.31, 0.37, 0.43, 0.49, 0.55, 0.61, 0.67, 0.73, 0.79, 0.9, 1.0, 1.12, 1.26, 1.4, 1.54, 1.7, 1.9]],
  [0.14, [0.16, 0.22, 0.28, 0.34, 0.4, 0.46, 0.52, 0.58, 0.64, 0.7, 0.76, 0.82, 0.9, 1.02, 1.06, 1.1, 1.14, 1.18, 1.24, 1.38, 1.52, 1.68, 1.88]],
  [0.13, [0.13, 0.19, 0.25, 0.31, 0.37, 0.43, 0.49, 0.55, 0.61, 0.67, 0.73, 0.79, 0.9, 1.0, 1.1, 1.22, 1.36, 1.5, 1.66, 1.86]],
  [0.12, [0.16, 0.22, 0.28, 0.34, 0.4, 0.46, 0.52, 0.58, 0.64, 0.7, 0.76, 0.82, 0.9, 1.02, 1.06, 1.1, 1.14, 1.2, 1.32, 1.46, 1.62, 1.82, 2.0]],
  [0.11, [0.13, 0.19, 0.25, 0.31, 0.37, 0.43, 0.49, 0.55, 0.61, 0.67, 0.73, 0.79, 1.0, 1.1, 1.2, 1.3, 1.44, 1.6, 1.8, 2.2, 2.26, 2.32, 2.38]],
  [0.1, [0.16, 0.22, 0.28, 0.34, 0.4, 0.46, 0.52, 0.58, 0.64, 0.7, 0.76, 0.82, 1.06, 1.1, 1.14, 1.18, 1.28, 1.42, 1.58, 1.78, 2.0]],
  [0.09, [0.13, 0.19, 0.25, 0.31, 0.37, 0.43, 0.49, 0.55, 0.61, 0.67, 0.73, 0.79, 1.2, 1.32, 1.42, 1.56, 1.76, 1.96]],
  [0.08, [0.16, 0.22, 0.28, 0.34, 0.4, 0.46, 0.52, 0.58, 0.64, 0.7, 0.76, 0.82, 1.1, 1.18, 1.26, 1.4, 1.54, 1.74]],
  [0.07, [0.13, 0.19, 0.25, 0.31, 0.37, 0.43, 0.49, 0.55, 0.61, 0.67, 0.73, 0.79, 1.16, 1.2, 1.24, 1.32, 1.46, 1.72, 1.94]],
  [0.06, [0.16, 0.22, 0.28, 0.34, 0.4, 0.46, 0.52, 0.58, 0.64, 0.7, 0.76, 0.82, 1.06, 1.18, 1.3, 1.44, 1.6]],
  [0.05, [0.19, 0.25, 0.31, 0.37, 0.43, 0.49, 0.55, 0.61, 0.67, 0.73, 0.79, 1.1, 1.24, 1.38, 1.52]],
  [0.04, [0.16, 0.22, 0.28, 0.34, 0.4, 0.46, 0.52, 0.58, 0.64, 0.7, 0.76, 0.82, 1.16, 1.28, 1.4, 1.5, 1.9]],
  [0.03, [0.19, 0.25, 0.31, 0.37, 0.43, 0.49, 0.55, 0.61, 0.67, 0.73, 0.79, 1.2, 1.32, 1.44, 2.02]],
  [0.02, [0.22, 0.28, 0.34, 0.4, 0.46, 0.52, 0.58, 0.64, 0.7, 0.76, 0.82, 1.26, 1.38]],
  [0.01, [0.25, 0.31, 0.37, 0.43, 0.49, 0.55, 0.61, 0.67, 0.73, 0.79, 1.3, 1.42, 1.9]],
  [0.0, [0.28, 0.34, 0.4, 0.46, 0.52, 0.58, 0.64, 0.7, 0.76, 0.82, 1.3]],
];
// additional dots in the middle / right part of panel b
const etaFill: [number, number[]][] = [
  [0.795, [1.07, 1.36, 1.53, 1.77, 2.05, 2.27, 2.44]], [0.775, [0.93, 1.21, 1.4, 1.66, 1.9, 2.14, 2.37]],
  [0.755, [0.89, 1.17, 1.42, 1.58, 1.8, 2.02, 2.18, 2.34, 2.47]], [0.735, [0.86, 1.0, 1.15, 1.33, 1.49, 1.66, 1.79, 1.94, 2.11, 2.28, 2.42]],
  [0.715, [0.97, 1.09, 1.24, 1.42, 1.61, 1.79, 1.97, 2.15, 2.31, 2.44]], [0.695, [0.93, 1.06, 1.2, 1.37, 1.57, 1.75, 1.92, 2.11, 2.26, 2.46]],
  [0.675, [0.9, 1.03, 1.18, 1.34, 1.51, 1.68, 1.85, 2.0, 2.16, 2.33, 2.48]], [0.655, [0.88, 1.01, 1.15, 1.31, 1.49, 1.66, 1.84, 2.05, 2.24, 2.44]],
  [0.635, [0.86, 0.98, 1.12, 1.28, 1.44, 1.61, 1.79, 1.97, 2.15, 2.33]], [0.615, [0.95, 1.1, 1.25, 1.4, 1.56, 1.73, 1.91, 2.09, 2.29, 2.46]],
  [0.595, [0.93, 1.07, 1.21, 1.36, 1.52, 1.69, 1.87, 2.06, 2.25, 2.43]], [0.575, [0.91, 1.04, 1.17, 1.32, 1.48, 1.65, 1.83, 2.02, 2.22, 2.4]],
  [0.555, [0.89, 1.02, 1.14, 1.29, 1.44, 1.61, 1.79, 1.98, 2.18, 2.37]], [0.535, [1.12, 1.27, 1.42, 1.58, 1.75, 1.94, 2.14, 2.33]],
  [0.515, [0.87, 0.99, 1.16, 1.32, 1.49, 1.68, 1.87, 2.07, 2.27, 2.45]], [0.495, [0.97, 1.12, 1.28, 1.45, 1.63, 1.83, 2.03, 2.24, 2.43]],
  [0.475, [0.95, 1.09, 1.24, 1.41, 1.6, 1.8, 2.0, 2.2, 2.38]], [0.455, [0.93, 1.07, 1.22, 1.38, 1.56, 1.76, 1.96, 2.16, 2.35]],
  [0.435, [0.91, 1.05, 1.2, 1.36, 1.83, 2.05, 2.25, 2.45]], [0.415, [0.89, 1.03, 1.17, 1.32, 1.49, 1.68, 1.88, 2.08, 2.29]],
  [0.395, [0.87, 1.01, 1.15, 1.3, 1.47, 1.66, 1.86, 2.07, 2.28]], [0.375, [0.86, 0.99, 1.13, 1.28, 1.45, 1.63, 1.82, 2.03, 2.25, 2.45]],
  [0.355, [1.14, 1.27, 1.42, 1.59, 1.78, 1.98, 2.2, 2.42]], [0.335, [0.96, 1.1, 1.37, 1.55, 1.74, 1.95, 2.17, 2.39]],
  [0.315, [0.94, 1.08, 1.23, 1.38, 1.54, 1.71, 1.9, 2.1, 2.33]], [0.295, [0.92, 1.06, 1.2, 1.35, 1.5, 1.67, 1.86]],
  [0.275, [1.16, 1.31, 1.46, 1.63, 1.82, 2.02]], [0.255, [1.15, 1.29, 1.43, 1.59, 1.78]],
  [0.235, [0.89, 1.01, 1.14, 1.27, 1.41, 1.56, 1.74]], [0.215, [0.88, 1.0, 1.12, 1.25, 1.39, 1.54, 1.71]],
  [0.195, [0.86, 0.98, 1.1, 1.23, 1.37, 1.52, 1.68, 1.86]], [0.175, [0.85, 0.96, 1.08, 1.21, 1.35, 1.49, 1.65]],
  [0.155, [0.95, 1.06, 1.19, 1.33, 1.47, 1.62, 1.8]], [0.135, [0.95, 1.05, 1.16, 1.29, 1.43, 1.58, 1.76]],
  [0.115, [0.94, 1.06, 1.15, 1.25, 1.37, 1.52, 1.7]], [0.095, [0.98, 1.1, 1.26, 1.37, 1.49, 1.66]],
  [0.075, [1.02, 1.09, 1.38, 1.55]], [0.055, [1.03, 1.17, 1.31, 1.45]], [0.035, [1.12, 1.26, 1.38]], [0.015, [1.18, 1.36]],
];

const nseThreshold = 0.82;
const nseTicks = [0, 0.1, 0.2, 0.3, 0.4, 0.5, 0.6, 0.7, 0.8, 0.9, 1];
const nseTickLabels = ['0', '', '0.2', '', '0.4', '', '0.6', '', '0.8', '', '1'];
const tauTicks = [0, 2.5, 5, 7.5, 10, 12.5];
const tauTickLabels = ['0', '', '5', '', '10', ''];
const etaTicks = [0, 0.25, 0.5, 0.75, 1, 1.25, 1.5, 1.75, 2, 2.25, 2.5];
const etaTickLabels = ['0', '', '0.5', '', '1', '', '1.5', '', '2', '', '2.5'];

// ---------- Panel c: time series (x = days since 8/1/10) ----------
const monthTicks = ['8/1/10', '9/1/10', '10/1/10', '11/1/10', '12/1/10', '1/1/11', '2/1/11', '3/1/11', '4/1/11',
  '5/1/11', '6/1/11', '7/1/11', '8/1/11', '9/1/11', '10/1/11', '11/1/11', '12/1/11', '1/1/12', '2/1/12',
  '3/1/12', '4/1/12', '5/1/12', '6/1/12', '7/1/12', '8/1/12', '9/1/12'];
const labeledMonths = ['8/1/10', '11/1/10', '2/1/11', '5/1/11', '8/1/11', '11/1/11', '2/1/12', '5/1/12', '8/1/12'];
const isoTicks = [-20, -15, -10, -5, 0, 5];
const isoTickLabels = ['-20', '', '-10', '', '0', ''];

const bandDays = [18, 26, 33, 39, 46, 51, 60, 68, 78, 86, 93, 100, 109, 118, 127, 134, 144, 156, 168, 177,
  185, 194, 207, 219, 232, 244, 255, 267, 276, 285, 293, 305, 314, 318, 323, 334, 343, 352, 361, 368,
  373, 381, 390, 404, 413, 422, 431, 439, 448, 457, 466, 476, 483, 495, 507, 518, 530, 539, 548, 558,
  565, 577, 588, 600, 612, 624, 634, 642, 651, 660, 669, 677, 689, 698, 710, 721, 730, 739];
const bandUpper = [-0.8, -0.5, 0.0, 0.45, 0.0, -0.35, -0.9, -0.3, -0.3, -0.7, -1.4, -1.6, -2.4, -4.5, -5.9, -6.3, -6.1, -6.2, -6.1, -6.1,
  -4.5, -3.2, -3.1, -3.3, -4.7, -5.6, -7.1, -9.9, -11.1, -11.3, -10.1, -6.6, -5.0, -4.5, -4.2, -3.7, -3.2, -3.1, -2.1, -1.6,
  -1.5, -1.0, -1.0, -1.2, -1.3, -1.5, -1.7, -2.3, -3.5, -4.0, -4.5, -4.7, -4.5, -4.9, -5.2, -5.6, -5.5, -4.7, -4.5, -4.5,
  -5.1, -5.6, -6.8, -7.1, -8.4, -9.8, -10.6, -11.1, -10.1, -8.7, -7.0, -5.6, -4.0, -3.9, -3.8, -3.5, -2.8, -2.0];
const bandLower = [-3.3, -2.8, -1.9, -2.0, -2.1, -2.3, -3.0, -2.6, -3.0, -3.1, -3.3, -4.4, -7.4, -8.4, -9.4, -10.7, -10.5, -10.0, -10.1, -9.4,
  -8.6, -8.0, -6.6, -6.3, -7.5, -9.8, -14.0, -16.6, -17.9, -17.5, -16.8, -14.3, -12.0, -10.5, -9.1, -7.8, -7.1, -6.2, -5.0, -4.6,
  -4.2, -3.1, -2.6, -2.6, -2.8, -3.3, -4.5, -5.9, -7.0, -8.2, -8.4, -8.2, -8.0, -8.3, -8.7, -9.0, -8.5, -7.8, -7.7, -7.8,
  -8.0, -8.4, -9.6, -11.1, -12.5, -14.0, -15.4, -16.7, -16.0, -14.6, -13.9, -11.0, -8.6, -7.3, -6.1, -5.6, -5.2, -4.7];

const modelDays = [18, 26, 32.7, 42, 50.8, 60, 68.4, 74.8, 81.5, 94.7, 103.4, 112, 121, 128, 135.6, 144.3, 150, 156, 164.8, 173.5,
  176.5, 185.2, 193.9, 202.8, 213, 221.7, 229, 236.4, 245, 255.3, 264, 271.5, 277, 287.5, 293.3, 299.2, 305, 311, 318, 325.5,
  334.2, 343, 351, 360.5, 366.3, 372.2, 380.9, 389.7, 398.5, 407.2, 416, 423.3, 429.2, 436.5, 445.2, 454, 461.3, 468.6, 476, 480.3,
  486.1, 494.9, 503.6, 512.4, 522.6, 529.9, 538.7, 550.4, 557.7, 569.4, 576.7, 588.4, 600.1, 608.9, 617.6, 626.4, 633.6, 640.9, 648.2, 657,
  665.8, 673.1, 681.9, 689.2, 696.5, 703.8, 712.5, 721.3, 730.1, 737.4];
const modelValues = [-2.5, -1.7, -0.9, -1.2, -1.3, -1.5, -1.2, -1.2, -2.4, -2.2, -3.5, -4.9, -6.3, -7.1, -7.8, -8.3, -8.4, -8.0, -8.2, -8.0,
  -7.1, -6.9, -6.3, -5.4, -4.8, -5.2, -6.1, -7.5, -8.7, -10.5, -12.2, -13.4, -13.9, -13.8, -13.4, -12.5, -10.8, -9.9, -7.6, -6.6,
  -5.9, -5.2, -4.7, -3.5, -3.5, -3.0, -2.2, -1.8, -1.7, -1.9, -2.3, -2.3, -3.5, -4.5, -5.2, -5.6, -6.1, -6.4, -6.6, -6.3,
  -6.3, -6.7, -6.6, -6.9, -7.2, -7.0, -6.4, -6.0, -6.3, -6.3, -7.0, -7.8, -8.7, -9.4, -10.5, -11.7, -12.5, -13.4, -12.7, -12.2,
  -11.3, -10.1, -8.5, -6.6, -6.1, -5.6, -4.9, -4.6, -4.2, -3.5];

const inputDays = [17, 25, 31.8, 39, 45, 52.3, 59.6, 66.9, 74.2, 81.5, 87.6, 94.7, 102, 108.7, 115.7, 121.7, 130.3, 137, 144.3, 150.7,
  158, 164.8, 172, 178.8, 186.1, 192, 199.5, 207.1, 214.4, 220.9, 228.2, 234.9, 242, 248.9, 255.9, 263.2, 269.9, 276.4, 284, 290.8,
  298.3, 305, 312.5, 319.5, 326, 332.8, 340.1, 347.4, 354.1, 360.5, 367.8, 375.1, 382.4, 389.7, 396.5, 403.1, 410.1, 417.1, 424, 430.6,
  438.5, 445.2, 452.5, 459.8, 465.9, 473, 480.3, 486.7, 494, 500.7, 507.7, 515.4, 522.6, 529.4, 536, 543, 550.8, 556.3, 564.5, 571.4,
  578.1, 585.4, 591.8, 598.5, 605.8, 613.1, 620.4, 627.8, 634.8, 641.9, 648.3, 655, 669.6, 676.9, 683.3, 689.8, 696.5, 703.8, 711, 718.4,
  725.6, 732.4, 739.4];
const inputValues = [-2.1, -1.6, 3.3, -4.2, -4.5, -1.9, 0.4, -1.2, -0.3, -5.3, -3.3, -3.7, -8.8, -10.9, -9.1, -6.2, -12.6, -3.4, -9.1, -9.1,
  -6.7, -11.0, -4.9, -3.6, -2.4, -4.9, -5.3, -3.4, -9.5, -6.1, -6.4, -13.1, -8.9, -12.5, -20.2, -17.0, -14.0, -11.1, -11.4, -7.1,
  -7.5, -4.2, -9.7, -3.0, -7.1, -5.6, -3.4, -3.6, -2.2, 0.5, -4.7, 0.2, -2.2, -1.6, -2.3, -3.1, -4.0, -2.7, -1.4, -7.8,
  -9.2, -6.1, -7.3, -5.3, -7.1, -3.7, -6.4, -8.4, -9.0, -6.6, -6.0, -9.3, -5.4, -4.2, -5.6, -5.9, -5.1, -8.9, -8.5, -6.1,
  -8.3, -10.0, -9.0, -11.1, -12.1, -15.0, -11.3, -15.3, -16.1, -13.9, -6.2, -9.3, -3.9, -5.7, -4.6, -5.2, -4.8, -5.5, -5.0, -2.5,
  -3.1, -2.2, 2.2];

const obsDays = [122.4, 129, 150, 157.5, 164.8, 171, 177.9, 185.2, 192.5, 199.2, 206.3, 213.3, 234.3, 241.3, 248, 255.3, 262, 269.9, 276.4, 283.7,
  290.4, 327.8, 332.8, 339.5, 345.9, 353.2, 359.9, 367.8, 374.2, 394.9, 401.9, 409.3, 416.6, 423.3, 430.6, 437.4, 444.4, 464.9, 472, 479.4,
  500.2, 507.2, 513.9, 521.2, 527.9, 535.2, 546, 549, 556.3, 563.6, 584, 591.4, 612.3, 615.6, 630.5, 637.1, 644.5, 651.2, 658.5, 665.8,
  672.2, 679.5, 686.2, 693, 700.3, 707.6, 714.6, 721.9, 728.6, 735.4, 741.8];
const obsValues = [-7.8, -7.7, -8.4, -7.2, -7.9, -7.6, -7.8, -7.4, -6.6, -5.0, -5.7, -5.2, -6.6, -8.7, -8.7, -9.8, -13.2, -15.1, -13.9, -13.7,
  -13.5, -9.6, -9.4, -7.5, -4.5, -4.5, -4.1, -4.0, -3.5, -2.4, -2.5, -2.2, -2.0, -1.9, -2.2, -4.9, -4.3, -4.3, -4.0, -4.7,
  -4.8, -5.5, -5.8, -6.0, -6.3, -5.6, -5.6, -5.4, -5.4, -5.3, -5.2, -5.7, -9.1, -15.0, -13.0, -15.7, -14.4, -11.1, -10.7, -10.7,
  -8.6, -8.4, -7.6, -7.3, -4.3, -4.2, -5.9, -4.4, -4.5, -3.6, -2.9];

// ---------- helpers ----------
function dateToDay(s: string): number {
  const [m, d, y] = s.split('/').map(Number);
  return (Date.UTC(2000 + y, m - 1, d) - Date.UTC(2010, 7, 1)) / 86400000;
}
const flattenRows = (rows: [number, number[]][]) =>
  rows.flatMap(([y, xs]) => xs.map((x) => ({ x, y })));
const pairs = (xs: number[], ys: number[]) => xs.map((x, i) => ({ x, y: ys[i] }));

function framePlugin(inset: number) {
  return {
    id: 'frame',
    afterDatasetsDraw(chart: any) {
      const { ctx, chartArea } = chart;
      const l = Math.round(chartArea.left) + 0.5;
      const t = Math.round(chartArea.top) + 0.5;
      const r = Math.round(chartArea.right) - 0.5;
      const b = Math.round(chartArea.bottom) - inset - 0.5;
      ctx.save();
      ctx.strokeStyle = '#222';
      ctx.lineWidth = 1;
      ctx.strokeRect(l, t, r - l, b - t);
      ctx.restore();
    },
  };
}

const tickFont = (size: number) => ({ family: FONT, size, lineHeight: 1 });
const titleFont = { family: FONT, size: 26.5, lineHeight: 1 };

type Layer = { rows: [number, number[]][]; radius: number | ((c: any) => number) };

function dottyOptions(opts: {
  xMax: number; xTicks: number[]; xLabels: string[]; xTitle: string;
  yLabels: string[]; yWidth: number; yTitle?: string; padRight: number;
}) {
  return {
    responsive: false,
    animation: false as const,
    events: [] as any[],
    layout: { padding: { top: 19, right: opts.padRight, bottom: 0, left: 0 } },
    plugins: { legend: { display: false }, tooltip: { enabled: false } },
    scales: {
      x: {
        type: 'linear' as const,
        min: 0,
        max: opts.xMax,
        afterBuildTicks: (s: any) => { s.ticks = opts.xTicks.map((v) => ({ value: v })); },
        afterFit: (s: any) => { s.height = 86; },
        grid: { display: true, drawOnChartArea: false, drawTicks: true, tickLength: 11, color: '#222' },
        border: { display: false },
        ticks: {
          autoSkip: false, maxRotation: 0, padding: 15, color: '#000', font: tickFont(25),
          callback: (_v: any, i: number) => opts.xLabels[i],
        },
        title: { display: true, text: opts.xTitle, color: '#000', font: titleFont, padding: { top: 0, bottom: 1 } },
      },
      y: {
        type: 'linear' as const,
        min: 0,
        max: 1,
        afterBuildTicks: (s: any) => { s.ticks = nseTicks.map((v) => ({ value: v })); },
        afterFit: (s: any) => { s.width = opts.yWidth; },
        grid: { display: true, drawOnChartArea: false, drawTicks: true, tickLength: 11, color: '#222' },
        border: { display: false },
        ticks: {
          autoSkip: false, padding: 13, color: '#000', font: tickFont(25),
          callback: (_v: any, i: number) => opts.yLabels[i],
        },
        title: {
          display: !!opts.yTitle, text: opts.yTitle || '', color: '#000',
          font: titleFont, padding: { top: 21, bottom: 0 },
        },
      },
    },
  };
}

function DottyChart(props: {
  layers: Layer[]; xMax: number; xTicks: number[]; xLabels: string[]; xTitle: string; yLabels: string[];
  yWidth: number; yTitle?: string; padRight: number; left: number; width: number;
}) {
  const ref = useRef<HTMLCanvasElement>(null);
  useEffect(() => {
    if (!ref.current) return;
    const chart = new Chart(ref.current, {
      type: 'line',
      data: {
        datasets: [
          {
            data: [{ x: 0, y: nseThreshold }, { x: props.xMax, y: nseThreshold }],
            borderColor: '#ff1010', borderWidth: 2, pointRadius: 0, order: 0,
          } as any,
          ...props.layers.map((layer, i) => ({
            data: flattenRows(layer.rows), showLine: false, pointRadius: layer.radius,
            pointBorderWidth: 0, pointBackgroundColor: '#000', order: i + 1,
          } as any)),
        ],
      },
      options: dottyOptions(props) as any,
      plugins: [framePlugin(0)],
    });
    return () => chart.destroy();
  }, []);
  return <canvas ref={ref} width={props.width} height={370}
    style={{ position: 'absolute', left: props.left, top: 0, width: props.width, height: 370 }} />;
}

function SeriesChart() {
  const ref = useRef<HTMLCanvasElement>(null);
  useEffect(() => {
    if (!ref.current) return;
    const monthDays = monthTicks.map(dateToDay);
    const chart = new Chart(ref.current, {
      type: 'line',
      data: {
        datasets: [
          { data: pairs(bandDays, bandLower), borderWidth: 0, pointRadius: 0, fill: false, order: 5 } as any,
          { data: pairs(bandDays, bandUpper), borderWidth: 0, pointRadius: 0, fill: '-1', backgroundColor: '#999999', order: 4 } as any,
          { data: pairs(modelDays, modelValues), borderColor: '#000', borderWidth: 2, pointRadius: 0, order: 3 } as any,
          {
            data: pairs(inputDays, inputValues), borderColor: '#000', borderWidth: 1.4, borderDash: [10, 10],
            segment: { borderDashOffset: (c: any) => (c.p0DataIndex % 2 ? 10 : 10.01) },
            pointStyle: 'cross', pointRadius: 5.5, pointBorderWidth: 1.3, pointBorderColor: '#000', order: 2,
          } as any,
          {
            data: pairs(obsDays, obsValues), showLine: false, pointRadius: 4.6, pointBorderWidth: 0,
            pointBackgroundColor: '#000', order: 1,
          } as any,
        ],
      },
      options: {
        responsive: false,
        animation: false,
        events: [],
        layout: { padding: { top: 18, right: 6, bottom: 0, left: 0 } },
        plugins: { legend: { display: false }, tooltip: { enabled: false } },
        scales: {
          x: {
            type: 'linear',
            min: 0,
            max: dateToDay('9/1/12'),
            afterBuildTicks: (s: any) => { s.ticks = monthDays.map((v) => ({ value: v })); },
            afterFit: (s: any) => { s.height = 92; },
            grid: { display: true, drawOnChartArea: false, drawTicks: true, tickLength: 10, color: '#222' },
            border: { display: true, color: '#222' },
            ticks: {
              autoSkip: false, maxRotation: 0, padding: 21, color: '#000', font: tickFont(26),
              callback: (_v: any, i: number) => (labeledMonths.includes(monthTicks[i]) ? monthTicks[i] : ''),
            },
            title: { display: true, text: 'Date [m/d/yy]', color: '#000', font: titleFont, padding: { top: 0, bottom: 4.5 } },
          },
          y: {
            type: 'linear',
            min: -22.8,
            max: 5,
            afterBuildTicks: (s: any) => { s.ticks = isoTicks.map((v) => ({ value: v })); },
            afterFit: (s: any) => { s.width = 117; },
            grid: { display: true, drawOnChartArea: false, drawTicks: true, tickLength: 10, color: '#222' },
            border: { display: false },
            ticks: {
              autoSkip: false, padding: 21, color: '#000', font: tickFont(26),
              callback: (_v: any, i: number) => isoTickLabels[i],
            },
            title: {
              display: true, text: 'δ¹⁸O [⁰/₀₀]', color: '#000',
              font: { family: FONT, size: 26, lineHeight: 1 }, padding: { top: 12.5, bottom: 0 },
            },
          },
        },
      } as any,
      plugins: [framePlugin(3)],
    });
    return () => chart.destroy();
  }, []);
  return <canvas ref={ref} width={993} height={377}
    style={{ position: 'absolute', left: 0, top: 375, width: 993, height: 377 }} />;
}

const panelLabel = (text: string, left: number, top: number) => (
  <div style={{ position: 'absolute', left, top, fontFamily: FONT, fontSize: 25, lineHeight: '25px', color: '#000' }}>{text}</div>
);

// slightly smaller dots in the packed low-eta region
const etaRadius = (c: any) => (c.raw && c.raw.x < 0.84 && c.raw.y < 0.76 ? 1.2 : 1.35);

export default function App() {
  return (
    <div style={{ position: 'absolute', left: 0, top: 0, width: 993, height: 752, background: '#fff', overflow: 'hidden' }}>
      <DottyChart layers={[{ rows: tauDense, radius: 1.3 }, { rows: tauMedium, radius: 1.05 }, { rows: tauSparse, radius: 0.95 }]}
        xMax={12.5} xTicks={tauTicks} xLabels={tauTickLabels} xTitle="τ [weeks]"
        yLabels={nseTickLabels} yWidth={117} yTitle="NSE [-]" padRight={18} left={0} width={400} />
      <DottyChart layers={[{ rows: etaDots, radius: etaRadius }, { rows: etaFill, radius: 1.2 }]}
        xMax={2.5} xTicks={etaTicks} xLabels={etaTickLabels} xTitle="η [-]"
        yLabels={nseTicks.map(() => '')} yWidth={30} padRight={25} left={390} width={320} />
      <SeriesChart />
      {panelLabel('a)', 126, 28)}
      {panelLabel('b)', 429, 28)}
      {panelLabel('c)', 133, 616)}
    </div>
  );
}
